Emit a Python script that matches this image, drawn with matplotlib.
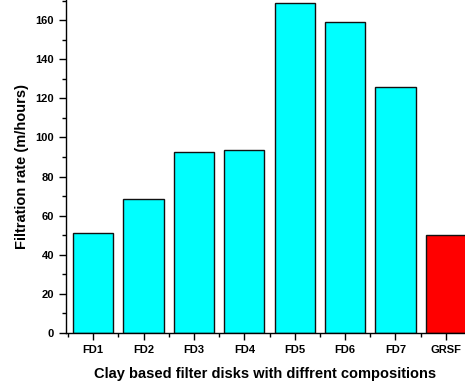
import matplotlib
matplotlib.use("Agg")
import matplotlib.pyplot as plt
from matplotlib.ticker import MultipleLocator, FixedLocator

categories = ["FD1", "FD2", "FD3", "FD4", "FD5", "FD6", "FD7", "GRSF"]
values = [51.2, 68.5, 92.6, 93.6, 169.0, 159.0, 125.8, 50.2]
colors = ["#00FFFF"] * 7 + ["#FF0000"]

plt.rcParams['font.family'] = ['Liberation Sans', 'DejaVu Sans']
plt.rcParams['font.weight'] = 'bold'

fig = plt.figure(figsize=(4.65, 3.86), dpi=100)
ax = fig.add_axes([66/465, 53/386, 1 - 66/465, 333/386])

x = list(range(len(categories)))
ax.bar(x, values, width=0.8, color=colors, edgecolor="#111111", linewidth=1.0)

ax.set_xlim(-0.54, 7.38)
ax.set_ylim(0, 170.3)
ax.set_xticks(x)
ax.set_xticklabels(categories, fontsize=8, fontweight='bold')
ax.xaxis.set_minor_locator(FixedLocator([i + 0.5 for i in range(-1, 8)]))
ax.yaxis.set_major_locator(MultipleLocator(20))
ax.yaxis.set_minor_locator(MultipleLocator(10))
for lab in ax.get_yticklabels():
    lab.set_fontweight('bold')
    lab.set_fontsize(8)
ax.tick_params(axis='both', which='major', direction='out', length=5, width=1, labelsize=8)
ax.tick_params(axis='both', which='minor', direction='out', length=3, width=1)
ax.spines['top'].set_visible(False)
ax.spines['right'].set_visible(False)
ax.spines['left'].set_linewidth(1)
ax.spines['bottom'].set_linewidth(1)

ax.set_xlabel("Clay based filter disks with diffrent compositions", fontsize=10.5, fontweight='bold', labelpad=9)
ax.set_ylabel("Filtration rate (m/hours)", fontsize=10.5, fontweight='bold', labelpad=5)

fig.savefig("out.png", dpi=100)
